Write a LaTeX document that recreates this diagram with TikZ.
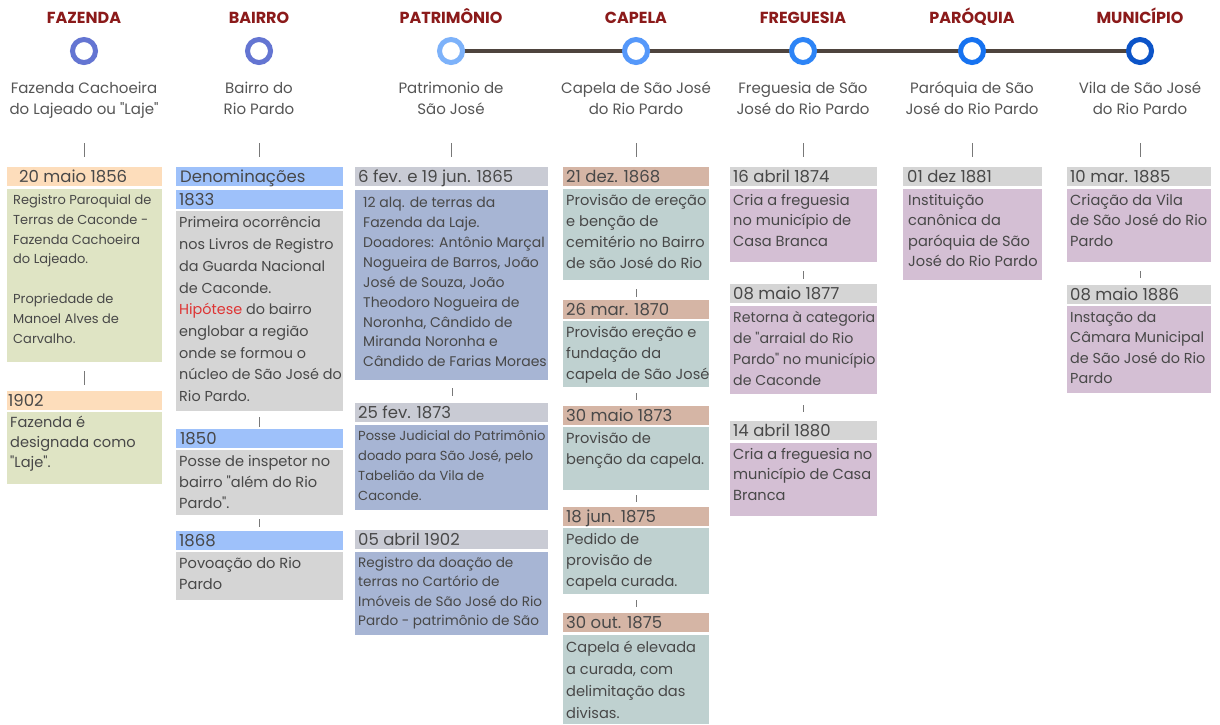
\documentclass[tikz,border=0pt]{standalone}
\usepackage{fontspec}
\setmainfont{Poppins}
\newfontfamily\pop{Poppins}
\usetikzlibrary{backgrounds}
\definecolor{hred}{RGB}{139,26,26}
\definecolor{subgray}{RGB}{85,85,85}
\definecolor{txt}{RGB}{72,72,72}
\definecolor{tickgray}{RGB}{120,120,120}
\definecolor{tline}{RGB}{78,68,62}
\definecolor{ringA}{RGB}{100,117,210}
\definecolor{ringB}{RGB}{125,178,250}
\definecolor{ringC}{RGB}{85,152,250}
\definecolor{ringD}{RGB}{45,132,246}
\definecolor{ringE}{RGB}{22,114,240}
\definecolor{ringF}{RGB}{12,84,200}
\definecolor{peach}{RGB}{253,221,187}
\definecolor{greenb}{RGB}{223,228,196}
\definecolor{blueh}{RGB}{158,193,250}
\definecolor{grayb}{RGB}{213,213,213}
\definecolor{graypat}{RGB}{201,203,212}
\definecolor{bluepat}{RGB}{167,181,212}
\definecolor{tanh}{RGB}{213,181,165}
\definecolor{tealb}{RGB}{191,209,208}
\definecolor{mauve}{RGB}{212,191,212}
\definecolor{hypred}{RGB}{222,52,52}
\tikzset{
  hdr/.style={font=\pop\bfseries\fontsize{16}{18}\selectfont, text=hred, inner sep=0pt, anchor=base},
  sub/.style={font=\pop\fontsize{15}{21}\selectfont, text=subgray, align=center, inner sep=0pt, anchor=north},
  ring/.style={circle, draw=#1, line width=5pt, fill=white, minimum size=23pt, inner sep=0pt},
  datet/.style={font=\pop\fontsize{16.5}{18}\selectfont, text=txt, inner sep=0pt, anchor=base west},
  bodyt/.style={font=\pop\fontsize{14.6}{21}\selectfont, text=txt, inner sep=0pt, anchor=north west, align=left},
  tickmark/.style={draw=tickgray, line width=0.8pt},
  tl/.style={draw=tline, line width=3.5pt}
}
% name, x, ytop, width, colour, text dx, text
\newcommand\datebar[7]{%
  \fill[#5] (#2,#3) rectangle ++(#4,18.5);
  \node[datet] (#1) at (#2+#6,#3+15) {#7};}
% name, x, ytop, width, ybottom, colour, style, text
\newcommand\bodybox[8]{%
  \fill[#6] (#2,#3) rectangle (#2+#4,#5);
  \node[bodyt,#7] (#1) at (#2+3,#3+1.5) {\strut #8};}
\newcommand\tk[3]{\draw[tickmark] (#1,#2) -- (#1,#3);}
\begin{document}
\begin{tikzpicture}[x=1pt,y=-1pt]
\useasboundingbox (0,0) rectangle (1220,724);
% titles
\node[hdr] (h1) at (84,23) {FAZENDA};
\node[hdr] (h2) at (259,23) {BAIRRO};
\node[hdr] (h3) at (451,23) {PATRIMÔNIO};
\node[hdr] (h4) at (636,23) {CAPELA};
\node[hdr] (h5) at (803,23) {FREGUESIA};
\node[hdr] (h6) at (972,23) {PARÓQUIA};
\node[hdr] (h7) at (1140,23) {MUNICÍPIO};
% rings
\node[ring=ringA] (c1) at (84,51) {};
\node[ring=ringA] (c2) at (259,51) {};
\node[ring=ringB] (c3) at (451,51) {};
\node[ring=ringC] (c4) at (636,51) {};
\node[ring=ringD] (c5) at (803,51) {};
\node[ring=ringE] (c6) at (972,51) {};
\node[ring=ringF] (c7) at (1140,51) {};
\begin{scope}[on background layer]
\fill[white] (0,0) rectangle (1220,724);
\draw[tl] (c3.center) -- (c4.center) -- (c5.center) -- (c6.center) -- (c7.center);
\end{scope}
% subtitles
\node[sub] (s1) at (84,78.3) {\strut Fazenda Cachoeira\\do Lajeado ou "Laje"};
\node[sub] (s2) at (259,78.3) {\strut Bairro do\\Rio Pardo};
\node[sub] (s3) at (451,78.3) {\strut Patrimonio de\\São José};
\node[sub] (s4) at (636,78.3) {\strut Capela de São José\\do Rio Pardo};
\node[sub] (s5) at (803,78.3) {\strut Freguesia de São\\José do Rio Pardo};
\node[sub] (s6) at (972,78.3) {\strut Paróquia de São\\José do Rio Pardo};
\node[sub] (s7) at (1140,78.3) {\strut Vila de São José\\do Rio Pardo};
% top ticks
\tk{84}{143}{157}\tk{259}{143}{157}\tk{451}{143}{157}\tk{636}{143}{157}
\tk{803}{143}{157}\tk{972}{143}{157}\tk{1140}{143}{157}
% column 1
\datebar{d11}{7}{167}{155}{peach}{12}{20 maio 1856}
\bodybox{b11}{7}{189}{155}{362}{greenb}{font=\pop\fontsize{13}{19.8}\selectfont, xshift=3pt}{Registro Paroquial de\\Terras de Caconde -\\Fazenda Cachoeira\\do Lajeado.\\[19.8pt]Propriedade de\\Manoel Alves de\\Carvalho.}
\tk{84}{371}{385}
\datebar{d12}{7}{391}{155}{peach}{1}{1902}
\bodybox{b12}{7}{412}{155}{484}{greenb}{font=\pop\fontsize{14.6}{20}\selectfont}{Fazenda é\\designada como\\"Laje".}
% column 2
\datebar{d20}{176}{167}{167}{blueh}{4}{Denominações}
\datebar{d21}{176}{190}{167}{blueh}{3}{1833}
\bodybox{b21}{176}{211}{167}{411}{grayb}{font=\pop\fontsize{14.4}{21.7}\selectfont}{Primeira ocorrência\\nos Livros de Registro\\da Guarda Nacional\\de Caconde.\\\textcolor{hypred}{Hipótese} do bairro\\englobar a região\\onde se formou o\\núcleo de São José do\\Rio Pardo.}
\tk{259}{417}{427}
\datebar{d22}{176}{429}{167}{blueh}{4}{1850}
\bodybox{b22}{176}{450}{167}{515}{grayb}{}{Posse de inspetor no\\bairro "além do Rio\\Pardo".}
\tk{259}{519}{527}
\datebar{d23}{176}{531}{167}{blueh}{3}{1868}
\bodybox{b23}{176}{552}{167}{600}{grayb}{}{Povoação do Rio\\Pardo}
% column 3
\datebar{d31}{355}{167}{193}{graypat}{3}{6 fev. e 19 jun. 1865}
\bodybox{b31}{355}{190}{193}{380}{bluepat}{font=\pop\fontsize{14}{19.9}\selectfont, xshift=5pt, yshift=-2pt}{12 alq. de terras da\\Fazenda da Laje.\\Doadores: Antônio Marçal\\Nogueira de Barros, João\\José de Souza, João\\Theodoro Nogueira de\\Noronha, Cândido de\\Miranda Noronha e\\Cândido de Farias Moraes}
\tk{452}{388}{396}
\datebar{d32}{355}{403}{193}{graypat}{3}{25 fev. 1873}
\bodybox{b32}{355}{425}{193}{510}{bluepat}{font=\pop\fontsize{13.1}{20}\selectfont}{Posse Judicial do Patrimônio\\doado para São José, pelo\\Tabelião da Vila de\\Caconde.}
\datebar{d33}{355}{530}{193}{graypat}{3}{05 abril 1902}
\bodybox{b33}{355}{552}{193}{635}{bluepat}{font=\pop\fontsize{13.6}{19.5}\selectfont}{Registro da doação de\\terras no Cartório de\\Imóveis de São José do Rio\\Pardo - patrimônio de São}
% column 4
\datebar{d41}{563}{167}{146}{tanh}{3}{21 dez. 1868}
\bodybox{b41}{563}{189}{146}{280}{tealb}{}{Provisão de ereção\\e benção de\\cemitério no Bairro\\de são José do Rio}
\tk{636}{289}{297}
\datebar{d42}{563}{300}{146}{tanh}{3}{26 mar. 1870}
\bodybox{b42}{563}{321}{146}{387}{tealb}{}{Provisão ereção e\\fundação da\\capela de São José}
\tk{636}{393}{400}
\datebar{d43}{563}{406}{146}{tanh}{3}{30 maio 1873}
\bodybox{b43}{563}{427}{146}{490}{tealb}{}{Provisão de\\benção da capela.}
\tk{636}{495}{502}
\datebar{d44}{563}{507}{146}{tanh}{3}{18 jun. 1875}
\bodybox{b44}{563}{528}{146}{594}{tealb}{}{Pedido de\\provisão de\\capela curada.}
\tk{636}{600}{607}
\datebar{d45}{563}{613}{146}{tanh}{3}{30 out. 1875}
\bodybox{b45}{563}{635}{146}{724}{tealb}{font=\pop\fontsize{14.6}{22}\selectfont}{Capela é elevada\\a curada, com\\delimitação das\\divisas.}
% column 5
\datebar{d51}{730}{167}{147}{grayb}{3}{16 abril 1874}
\bodybox{b51}{730}{189}{147}{262}{mauve}{font=\pop\fontsize{14.6}{20.5}\selectfont}{Cria a freguesia\\no município de\\Casa Branca}
\tk{803}{271}{279}
\datebar{d52}{730}{284}{147}{grayb}{3}{08 maio 1877}
\bodybox{b52}{730}{306}{147}{394}{mauve}{font=\pop\fontsize{14.2}{21}\selectfont}{Retorna à categoria\\de "arraial do Rio\\Pardo" no município\\de Caconde}
\tk{803}{405}{412}
\datebar{d53}{730}{421}{147}{grayb}{3}{14 abril 1880}
\bodybox{b53}{730}{443}{147}{516}{mauve}{font=\pop\fontsize{14.6}{20.5}\selectfont}{Cria a freguesia no\\município de Casa\\Branca}
% column 6
\datebar{d61}{903}{167}{139}{grayb}{4}{01 dez 1881}
\bodybox{b61}{903}{189}{139}{280}{mauve}{font=\pop\fontsize{14.6}{20.5}\selectfont, xshift=2pt}{Instituição\\canônica da\\paróquia de São\\José do Rio Pardo}
% column 7
\datebar{d71}{1067}{167}{144}{grayb}{3}{10 mar. 1885}
\bodybox{b71}{1067}{189}{144}{262}{mauve}{font=\pop\fontsize{14.6}{20.5}\selectfont}{Criação da Vila\\de São José do Rio\\Pardo}
\tk{1140}{271}{278}
\datebar{d72}{1067}{285}{144}{grayb}{3}{08 maio 1886}
\bodybox{b72}{1067}{306}{144}{393}{mauve}{font=\pop\fontsize{14.4}{20.5}\selectfont}{Instação da\\Câmara Municipal\\de São José do Rio\\Pardo}
\end{tikzpicture}
\end{document}
